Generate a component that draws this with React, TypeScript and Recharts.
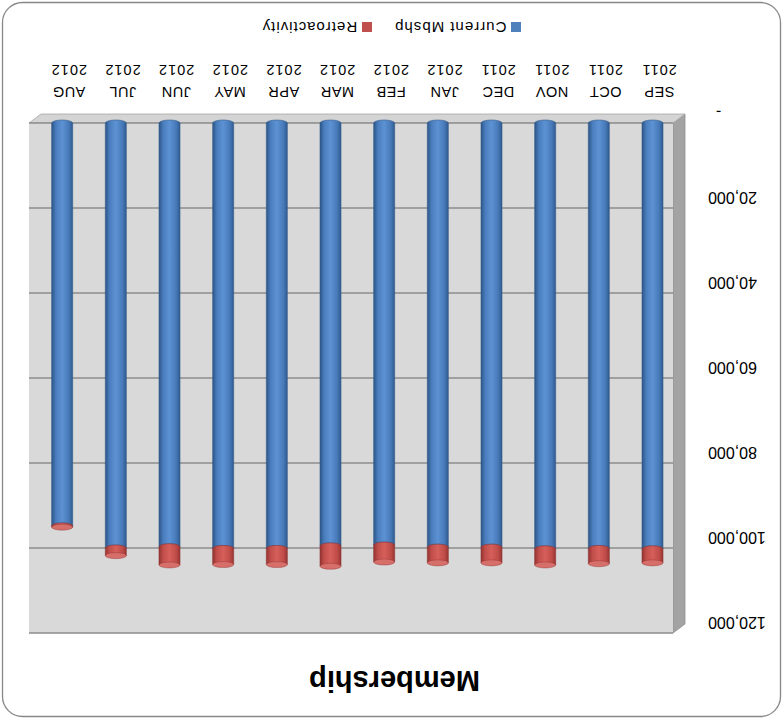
import React from 'react';
import { BarChart, Bar, XAxis, YAxis, CartesianGrid, Legend } from 'recharts';

// Monthly membership figures, Sep 2011 – Aug 2012
const months = ['SEP', 'OCT', 'NOV', 'DEC', 'JAN', 'FEB', 'MAR', 'APR', 'MAY', 'JUN', 'JUL', 'AUG'];
const years = ['2011', '2011', '2011', '2011', '2012', '2012', '2012', '2012', '2012', '2012', '2012', '2012'];
const currentMbshp = [100200, 100100, 100200, 99800, 99800, 99300, 99500, 100100, 100100, 99700, 100000, 94800];
const retroactivity = [3300, 3600, 3800, 3700, 3700, 4000, 4800, 3800, 3800, 4300, 1800, 300];
const yTicks = [0, 20000, 40000, 60000, 80000, 100000, 120000];

const data = months.map((m, i) => ({
  label: `${m} ${years[i]}`,
  current: currentMbshp[i],
  retro: retroactivity[i],
}));

const W = 783;
const H = 719;
const MARGIN = { top: 86, right: 29, bottom: 73, left: 50 };
const Y_AXIS_W = 60;
const X_AXIS_H = 50;
// depth of the 3-D box (front edge sits down-left of the back wall)
const DEPTH_X = 12;
const DEPTH_Y = 9;

const plotLeft = MARGIN.left + Y_AXIS_W;
const plotRight = W - MARGIN.right;
const plotTop = MARGIN.top;
const plotBottom = H - MARGIN.bottom - X_AXIS_H;

const FONT = '"Liberation Sans", Arial, sans-serif';

const SERIES_COLORS: Record<string, string> = {
  current: '#4f81bd',
  retro: '#c0504d',
};

const makeCylinder = (gradId: string, capColor: string, edge: string) => (props: any) => {
  const { x, y, width, height } = props;
  if (!width || height == null || height <= 0) return <g />;
  const x0 = x - DEPTH_X / 2;
  const rx = width / 2;
  const ry = 3;
  const bottom = y + height;
  const d = `M${x0},${y} L${x0},${bottom} A${rx},${ry} 0 0 0 ${x0 + width},${bottom} L${x0 + width},${y} Z`;
  return (
    <g>
      <path d={d} fill={`url(#${gradId})`} stroke={edge} strokeWidth={0.6} />
      <ellipse cx={x0 + rx} cy={y} rx={rx} ry={ry} fill={capColor} stroke={edge} strokeWidth={0.4} />
    </g>
  );
};

const BlueCylinder = makeCylinder('cylBlue', '#6b9bd8', '#2f5a8c');
const RedCylinder = makeCylinder('cylRed', '#d66e6a', '#8f3330');

const YTick = (props: any) => {
  const { x, y, payload } = props;
  const v = payload.value as number;
  const label = v === 0 ? '-' : v.toLocaleString('en-US');
  return (
    <text x={v === 0 ? x - 8 : x} y={y + 16} textAnchor="end" fontSize={16} fontFamily={FONT} fill="#000">
      {label}
    </text>
  );
};

const XTick = (props: any) => {
  const { x, y, payload } = props;
  const [m, yr] = String(payload.value).split(' ');
  const cx = x - DEPTH_X - 1;
  return (
    <g>
      <text x={cx} y={y + 36} textAnchor="middle" fontSize={14.5} letterSpacing={0.5} fontFamily={FONT} fill="#000">
        {m}
      </text>
      <text x={cx} y={y + 58} textAnchor="middle" fontSize={14.5} letterSpacing={1} fontFamily={FONT} fill="#000">
        {yr}
      </text>
    </g>
  );
};

const LegendContent = (props: any) => {
  const items = props.payload || [];
  return (
    <div style={{ display: 'flex', justifyContent: 'center', alignItems: 'center', fontFamily: FONT, fontSize: 15, letterSpacing: 1, color: '#000' }}>
      {items.map((it: any, i: number) => (
        <div key={i} style={{ display: 'flex', alignItems: 'center', marginLeft: i === 0 ? 0 : 22 }}>
          <span style={{ display: 'inline-block', width: 10, height: 10, background: SERIES_COLORS[it.dataKey], marginRight: 5 }} />
          <span>{it.value}</span>
        </div>
      ))}
    </div>
  );
};

export default function App() {
  const sideWall = `${plotLeft},${plotTop} ${plotLeft - DEPTH_X},${plotTop + DEPTH_Y} ${plotLeft - DEPTH_X},${plotBottom + DEPTH_Y} ${plotLeft},${plotBottom}`;
  const floor = `${plotLeft},${plotBottom} ${plotRight},${plotBottom} ${plotRight - DEPTH_X},${plotBottom + DEPTH_Y} ${plotLeft - DEPTH_X},${plotBottom + DEPTH_Y}`;
  return (
    <div style={{ position: 'absolute', left: 0, top: 0, width: W, height: H, transform: 'rotate(180deg)', background: '#fff' }}>
      <svg width={W} height={H} style={{ position: 'absolute', left: 0, top: 0 }}>
        <defs>
          <linearGradient id="cylBlue" x1="0" y1="0" x2="1" y2="0">
            <stop offset="0%" stopColor="#2f5a8e" />
            <stop offset="18%" stopColor="#4779b8" />
            <stop offset="50%" stopColor="#5c92d4" />
            <stop offset="80%" stopColor="#4a7dbd" />
            <stop offset="100%" stopColor="#2c5586" />
          </linearGradient>
          <linearGradient id="cylRed" x1="0" y1="0" x2="1" y2="0">
            <stop offset="0%" stopColor="#973533" />
            <stop offset="18%" stopColor="#bf4c48" />
            <stop offset="50%" stopColor="#d65f5a" />
            <stop offset="80%" stopColor="#c14e4a" />
            <stop offset="100%" stopColor="#933432" />
          </linearGradient>
        </defs>
        <rect x={2.5} y={2.5} width={W - 5} height={H - 5} rx={20} ry={20} fill="#fff" stroke="#878787" strokeWidth={1.3} />
        <polygon points={sideWall} fill="#a3a3a3" stroke="#8f8f8f" strokeWidth={0.8} />
        <polygon points={floor} fill="#d4d4d4" stroke="#a6a6a6" strokeWidth={0.8} />
        <text x={W / 2 - 3} y={48} textAnchor="middle" fontSize={29} fontWeight="bold" fontFamily={FONT} fill="#000">
          Membership
        </text>
      </svg>
      <div style={{ position: 'absolute', left: 0, top: 0 }}>
        <BarChart width={W} height={H} data={data} margin={MARGIN} barSize={21}>
          <CartesianGrid vertical={false} fill="#d9d9d9" stroke="#8c8c8c" strokeWidth={1.5} />
          <XAxis
            dataKey="label"
            height={X_AXIS_H}
            axisLine={false}
            tickLine={false}
            tickSize={0}
            tickMargin={0}
            interval={0}
            tick={<XTick />}
          />
          <YAxis
            width={Y_AXIS_W}
            domain={[0, 120000]}
            ticks={yTicks}
            axisLine={false}
            tickLine={false}
            tickSize={0}
            tickMargin={35}
            tick={<YTick />}
          />
          <Legend
            layout="horizontal"
            verticalAlign="middle"
            align="center"
            wrapperStyle={{ top: 683, left: 0, width: W }}
            content={<LegendContent />}
          />
          <Bar dataKey="current" name="Current Mbshp" stackId="m" fill="#4f81bd" shape={BlueCylinder} isAnimationActive={false} />
          <Bar dataKey="retro" name="Retroactivity" stackId="m" fill="#c0504d" shape={RedCylinder} isAnimationActive={false} />
        </BarChart>
      </div>
    </div>
  );
}
